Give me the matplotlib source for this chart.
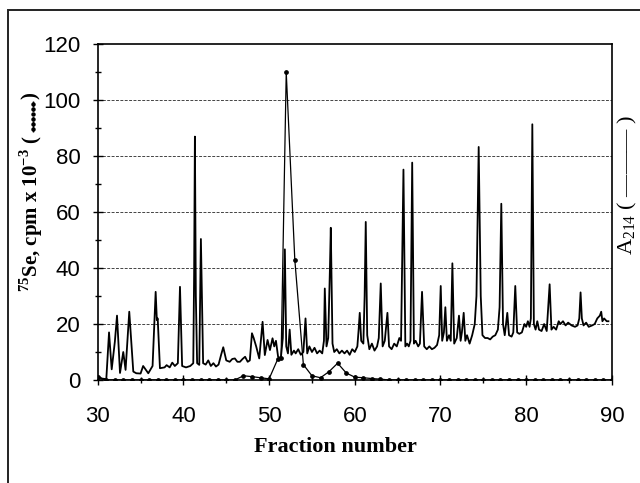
import numpy as np
import matplotlib.pyplot as plt
from matplotlib.lines import Line2D
from matplotlib.patches import Rectangle

plt.rcParams['font.family'] = ['Liberation Sans', 'DejaVu Sans']
plt.rcParams['mathtext.fontset'] = 'custom'
plt.rcParams['mathtext.rm'] = 'Liberation Serif'
plt.rcParams['mathtext.bf'] = 'Liberation Serif:bold'

# 75Se counts, one point per fraction
se_x = [30, 31, 32, 33, 34, 35, 36, 37, 38, 39, 40, 41, 42, 43, 44, 45, 46,
        47, 48, 49, 50, 51, 51.4, 52, 53, 54, 55, 56, 57, 58, 59, 60, 61, 62, 63,
        64, 65, 66, 67, 68, 69, 70, 71, 72, 73, 74, 75, 76, 77, 78, 79, 80,
        81, 82, 83, 84, 85, 86, 87, 88, 89, 90]
se_y = [1.0, 0, 0, 0, 0, 0, 0, 0, 0, 0, 0, 0, 0, 0, 0, 0, 0,
        1.5, 1.2, 0.8, 0.4, 7.4, 8.0, 110, 43, 5.5, 1.5, 0.8, 3.0, 6.0, 2.5, 1.0, 0.8, 0.5, 0.3,
        0, 0, 0, 0, 0, 0, 0, 0, 0, 0, 0, 0, 0, 0, 0, 0, 0,
        0, 0, 0, 0, 0, 0, 0, 0, 0, 0]

# A214 absorbance trace (left-axis units)
a214_x = [30.0, 30.5, 31.0, 31.32, 31.63, 32.0, 32.25, 32.6, 32.98, 33.25, 33.68, 34.15,
          34.5, 35.0, 35.3, 35.9, 36.4, 36.76, 36.9, 37.0, 37.26, 37.8, 38.04, 38.4,
          38.7, 39.0, 39.35, 39.6, 39.85, 40.3, 40.8, 41.15, 41.25, 41.34, 41.45, 41.6,
          41.85, 42.04, 42.3, 42.6, 42.9, 43.2, 43.5, 43.8, 44.1, 44.4, 44.65, 45.0,
          45.4, 45.7, 46.0, 46.3, 46.6, 46.9, 47.2, 47.5, 47.75, 48.0, 48.2, 48.5,
          48.85, 49.24, 49.5, 49.82, 50.1, 50.4, 50.6, 50.8, 51.05, 51.37, 51.6, 51.84,
          52.0, 52.2, 52.4, 52.6, 52.9, 53.1, 53.4, 53.7, 54.0, 54.25, 54.45, 54.7,
          55.0, 55.3, 55.6, 55.9, 56.2, 56.4, 56.5, 56.7, 56.9, 57.1, 57.2, 57.4,
          57.6, 57.9, 58.2, 58.5, 58.8, 59.1, 59.4, 59.7, 60.0, 60.3, 60.45, 60.58,
          60.75, 61.0, 61.15, 61.28, 61.45, 61.7, 62.0, 62.3, 62.6, 62.8, 63.03, 63.25,
          63.5, 63.81, 64.0, 64.3, 64.6, 64.9, 65.2, 65.4, 65.68, 65.9, 66.1, 66.3,
          66.5, 66.7, 66.9, 67.1, 67.4, 67.6, 67.85, 68.1, 68.4, 68.7, 69.0, 69.3,
          69.6, 69.85, 70.03, 70.2, 70.4, 70.57, 70.75, 71.0, 71.2, 71.39, 71.6, 71.9,
          72.16, 72.35, 72.5, 72.71, 72.9, 73.1, 73.4, 73.7, 74.0, 74.2, 74.46, 74.7,
          74.9, 75.2, 75.5, 75.8, 76.1, 76.4, 76.7, 76.9, 77.1, 77.3, 77.5, 77.8,
          78.0, 78.3, 78.5, 78.73, 78.95, 79.2, 79.5, 79.8, 80.0, 80.2, 80.4, 80.55,
          80.72, 80.9, 81.1, 81.3, 81.5, 81.8, 82.1, 82.4, 82.74, 82.95, 83.2, 83.5,
          83.8, 84.0, 84.3, 84.6, 84.9, 85.3, 85.7, 86.0, 86.2, 86.35, 86.5, 86.7,
          87.0, 87.3, 87.7, 88.0, 88.3, 88.6, 88.76, 88.9, 89.1, 89.4, 89.6]
a214_y = [1.2, 0.5, 0.3, 17, 3.8, 13.7, 23, 2.5, 10, 3.6, 24.4, 3.0,
          2.4, 2.3, 5.0, 2.4, 5.0, 31.5, 21.4, 22, 4.2, 4.5, 5.3, 4.5,
          6.2, 5.0, 6.0, 33.3, 5.0, 4.5, 5.0, 6.0, 38, 87, 30, 6.0,
          5.4, 50.4, 6.0, 5.5, 7.0, 5.0, 6.0, 4.8, 5.5, 9.0, 11.7, 7.0,
          6.5, 7.5, 7.7, 6.5, 6.5, 7.5, 8.3, 6.5, 7.0, 16.7, 15, 11.9,
          7.7, 20.8, 8.9, 14.3, 10.7, 14.9, 12, 14, 8.3, 7.8, 15, 46.7,
          12, 9.5, 18, 9.0, 10.5, 9.5, 11, 9.0, 10, 22, 9.5, 12,
          10, 11.5, 9.5, 10.5, 9.5, 14, 32.7, 12, 15, 40, 54.4, 13,
          10, 11, 9.5, 10.5, 9.5, 10.5, 9.0, 11, 10, 12, 18, 24,
          14, 13, 30, 56.5, 16, 11, 13, 10.5, 12, 15, 34.5, 12,
          14, 24, 12, 11, 13, 12, 15, 14, 75.2, 12, 13, 12,
          14, 77.7, 13, 14, 12, 13, 31.5, 12, 11, 12, 11, 11.5,
          12.5, 16, 33.6, 14, 17, 26, 14, 16, 14, 41.7, 13, 15,
          23, 14, 17, 24, 14, 16, 13, 16, 20, 30, 83.3, 30,
          16, 15, 15, 14.5, 15.5, 16, 18, 26, 63, 20, 16, 24,
          16, 15.5, 17, 33.6, 17, 16.5, 17, 20, 19, 21, 19, 22,
          91.4, 20, 18, 21, 18, 17.5, 20, 17.5, 34.2, 18, 19, 18,
          21, 20, 21, 19.5, 20.5, 19.5, 19, 19.5, 22, 31.3, 22, 19.5,
          20.5, 19, 19.5, 20, 22, 23, 24.4, 21, 22, 21, 21]

W, H = 640, 483
fig = plt.figure(figsize=(6.4, 4.83), dpi=100)
ax = fig.add_axes([0.1527, 0.2133, 0.8033, 0.695])

ax.plot(a214_x, a214_y, color='black', lw=1.3, zorder=3)
ax.plot(se_x, se_y, color='black', lw=0.9, marker='o', ms=2.4, zorder=4)

ax.set_xlim(30, 90)
ax.set_ylim(0, 120)
ax.set_xticks(np.arange(30, 91, 10))
ax.set_xticks(np.arange(35, 90, 10), minor=True)
ax.set_yticks(np.arange(0, 121, 20))
ax.set_yticks(np.arange(10, 120, 20), minor=True)
ax.tick_params(which='both', direction='inout', width=1)
ax.tick_params(which='major', length=7)
ax.tick_params(which='minor', length=5)
ax.tick_params(axis='x', labelsize=16, pad=15)
ax.tick_params(axis='y', labelsize=16, pad=9)
for y in range(20, 101, 20):
    ax.axhline(y, color='#444444', lw=0.7, ls=(0, (3, 1.5)), zorder=1)
for s in ax.spines.values():
    s.set_linewidth(1.2)

serif = 'Liberation Serif'
fig.text(335 / W, 1 - 447 / H, 'Fraction number', family=serif, weight='bold',
         fontsize=16, ha='center', va='center')

# left label: text, then the dotted-line key, then closing bracket
lab = fig.text(31 / W, 1 - 292 / H, r'$^{\mathbf{75}}$Se, cpm x 10$^{\mathbf{-3}}$ (',
               family=serif, weight='bold', fontsize=15, rotation=90,
               ha='center', va='bottom')
fig.canvas.draw()
top = lab.get_window_extent().y1  # pixels from bottom
y0, y1 = top + 3, top + 34
fig.add_artist(Line2D([33 / W, 33 / W], [y0 / H, y1 / H], color='black', lw=1.0,
                      ls=(0, (2, 1)), transform=fig.transFigure))
fig.add_artist(Line2D([33 / W] * 6, np.linspace(y0 + 3, y1 - 3, 6) / H, color='black',
                      lw=0, marker='o', ms=2.2, transform=fig.transFigure))
fig.text(31 / W, (y1 + 2) / H, ')', family=serif, weight='bold', fontsize=15,
         rotation=90, ha='center', va='bottom')

fig.text(627 / W, 1 - 185 / H, r'A$_{214}$ ( ——— )', family=serif, fontsize=16,
         rotation=90, ha='center', va='center')

fig.add_artist(Rectangle((8 / W, -0.05), 1.1, 1 - 10 / H + 0.05, fill=False,
                         edgecolor='#222222', lw=1.4, transform=fig.transFigure))

fig.savefig('out.png', dpi=100)
